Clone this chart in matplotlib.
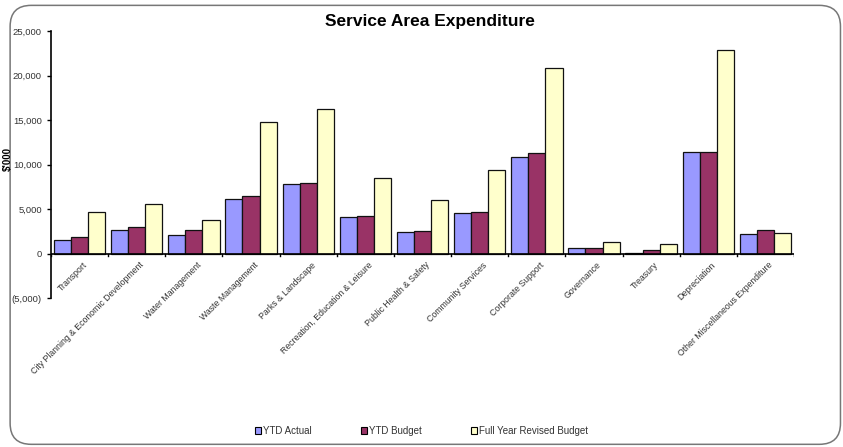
import matplotlib.pyplot as plt
import numpy as np
from matplotlib.patches import FancyBboxPatch, Patch
from matplotlib.ticker import FuncFormatter

plt.rcParams['font.family'] = ['Liberation Sans', 'DejaVu Sans']

categories = ["Transport", "City Planning & Economic Development", "Water Management",
              "Waste Management", "Parks & Landscape", "Recreation, Education & Leisure",
              "Public Health & Safety", "Community Services", "Corporate Support",
              "Governance", "Treasury", "Depreciation", "Other Miscellaneous Expenditure"]
ytd_actual = [1500, 2600, 2050, 6100, 7800, 4100, 2400, 4500, 10800, 600, 100, 11400, 2200]
ytd_budget = [1900, 2950, 2600, 6500, 7950, 4200, 2550, 4700, 11300, 600, 450, 11400, 2650]
full_year = [4700, 5600, 3750, 14800, 16200, 8500, 6000, 9400, 20900, 1300, 1050, 22900, 2300]

series = [("YTD Actual", ytd_actual, "#9999FF"),
          ("YTD Budget", ytd_budget, "#993366"),
          ("Full Year Revised Budget", full_year, "#FFFFCC")]

fig = plt.figure(figsize=(8.43, 4.47), dpi=100)
frame = FancyBboxPatch((0.012, 0.006), 0.985, 0.982, boxstyle="round,pad=0,rounding_size=0.025",
                       transform=fig.transFigure, facecolor="white", edgecolor="#777777",
                       lw=1.1, mutation_aspect=843 / 447, zorder=-10)
fig.patches.append(frame)

ax = fig.add_axes([0.0605, 0.3333, 0.8815, 0.5973])
ax.set_facecolor("none")

x = np.arange(len(categories))
w = 0.3
for i, (name, vals, col) in enumerate(series):
    ax.bar(x + (i - 1) * w, vals, width=w, color=col, edgecolor="#111111", lw=0.9, zorder=3)

ax.set_xlim(-0.5, len(categories) - 0.5)
ax.set_ylim(-5000, 25000)
ax.set_yticks(np.arange(-5000, 25001, 5000))
ax.yaxis.set_major_formatter(FuncFormatter(
    lambda v, p: "({:,.0f})".format(-v) if v < 0 else "{:,.0f}".format(v)))
ax.tick_params(axis='y', labelsize=6.8, length=3, width=1, colors="black", labelcolor="#333333")
for s in ["top", "right", "bottom"]:
    ax.spines[s].set_visible(False)
ax.spines["left"].set_linewidth(1.2)

# category axis at zero
ax.axhline(0, color="black", lw=1.2, zorder=4)
ax.set_xticks([])
for b in np.arange(-0.5, len(categories), 1.0):
    ax.plot([b, b], [0, -250], color="black", lw=1, zorder=4)

for xi, lab in zip(x, categories):
    ax.annotate(lab, (xi, 0), xytext=(2, -5), textcoords="offset points",
                rotation=45, ha="right", va="top", rotation_mode="anchor",
                fontsize=6.3, color="#333333")

ax.set_ylabel("$'000", fontsize=7, fontweight="bold")
ax.yaxis.set_label_coords(-0.052, 0.52)

fig.text(0.51, 0.953, "Service Area Expenditure", ha="center", va="center",
         fontsize=12.5, fontweight="bold")

handles = [Patch(facecolor=c, edgecolor="black", lw=0.8, label=n) for n, v, c in series]
fig.legend(handles=handles, loc="center", bbox_to_anchor=(0.5, 0.036), ncol=3, frameon=False,
           fontsize=7, handlelength=0.7, handleheight=0.7, handletextpad=0.2, columnspacing=5,
           labelcolor="#333333")

fig.savefig("out.png", dpi=100)
